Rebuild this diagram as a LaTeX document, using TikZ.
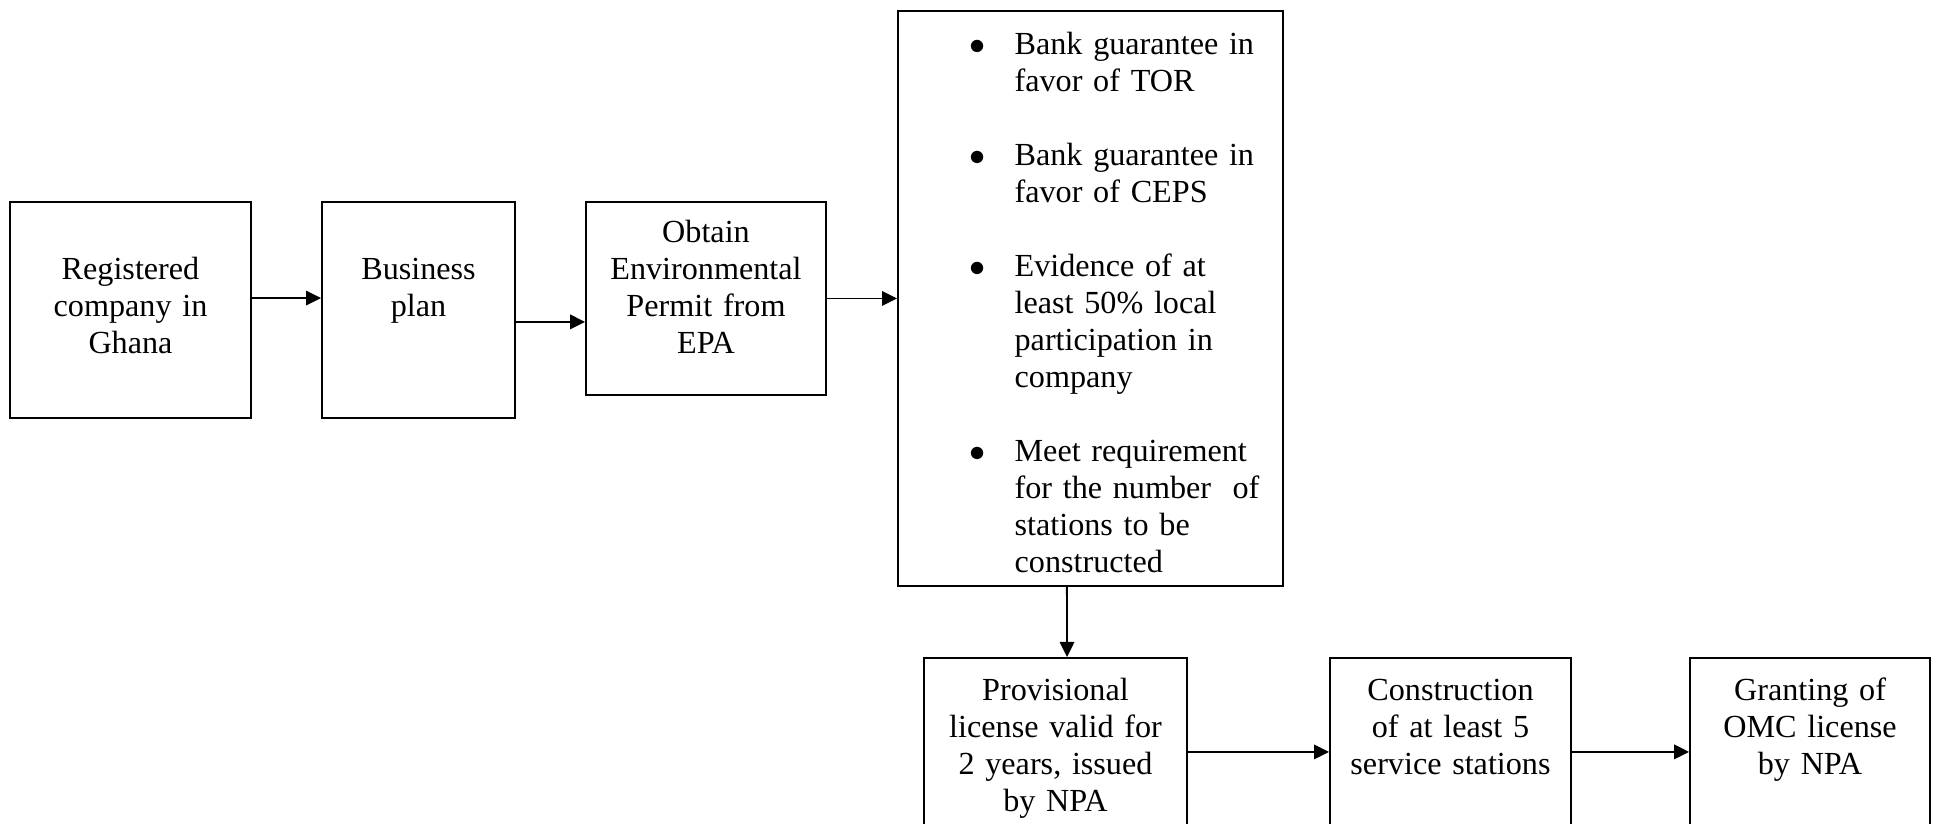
\documentclass[tikz,border=0pt]{standalone}
\usepackage{fontspec}
\setmainfont{Liberation Serif}
\usetikzlibrary{arrows.meta}
\usetikzlibrary{positioning}

\begin{document}
\begin{tikzpicture}[x=0.373pt,y=-0.373pt,
	stage/.style={draw,line width=0.7pt,inner sep=0pt,align=center,anchor=north,
		font=\fontsize{12}{13.8}\selectfont},
	flow/.style={line width=0.7pt,-{Triangle[length=5.6pt,width=5.4pt]}}]
	\clip (0,0) rectangle (1936,824);
	% top row
	\node[stage,text width=89.9pt,text height=29.1pt,text depth=51.5pt] (reg) at (130.5,201) {Registered\\company in\\Ghana};
	\node[stage,text width=72pt,text height=29.1pt,text depth=51.5pt] (plan) at (418.5,201) {Business\\plan};
	\node[stage,text width=89.5pt,text height=15.3pt,text depth=56.7pt] (epa) at (706,201) {Obtain\\Environmental\\Permit from\\EPA};
	\node[stage,text width=143.6pt,text height=16.4pt,text depth=198.1pt,align=left] (req) at (1090.5,10) {%
		\begin{tabular}[t]{@{\hspace{26.5pt}}l@{\hspace{11pt}}l@{}}
			$\bullet$ & Bank guarantee in\\
			& favor of TOR\\[13.8pt]
			$\bullet$ & Bank guarantee in\\
			& favor of CEPS\\[13.8pt]
			$\bullet$ & Evidence of at\\
			& least 50\% local\\
			& participation in\\
			& company\\[13.8pt]
			$\bullet$ & Meet requirement\\
			& for the number\ \ of\\
			& stations to be\\
			& constructed
		\end{tabular}};
	% bottom row
	\node[stage,text width=98.1pt,text height=15.7pt,text depth=70pt] (prov) at (1055.5,657) {Provisional\\license valid for\\2 years, issued\\by NPA};
	\node[stage,text width=89.9pt,text height=15.7pt,text depth=70pt] (cons) at (1450.5,657) {Construction\\of at least 5\\service stations};
	\node[stage,text width=89.5pt,text height=15.7pt,text depth=70pt] (omc) at (1810,657) {Granting of\\OMC license\\by NPA};
	% arrows
	\draw[flow] ([yshift=-36.2pt]reg.north east) -- ([yshift=-36.2pt]plan.north west);
	\draw[flow] ([yshift=-45.1pt]plan.north east) -- ([yshift=-45.1pt]epa.north west);
	\draw[flow] (epa.east) -- (epa.east -| req.west);
	\draw[flow] ([xshift=-8.8pt]req.south) -- ([xshift=4.3pt]prov.north);
	\draw[flow] ([yshift=-35.4pt]prov.north east) -- ([yshift=-35.4pt]cons.north west);
	\draw[flow] ([yshift=-35.4pt]cons.north east) -- ([yshift=-35.4pt]omc.north west);
\end{tikzpicture}
\end{document}
